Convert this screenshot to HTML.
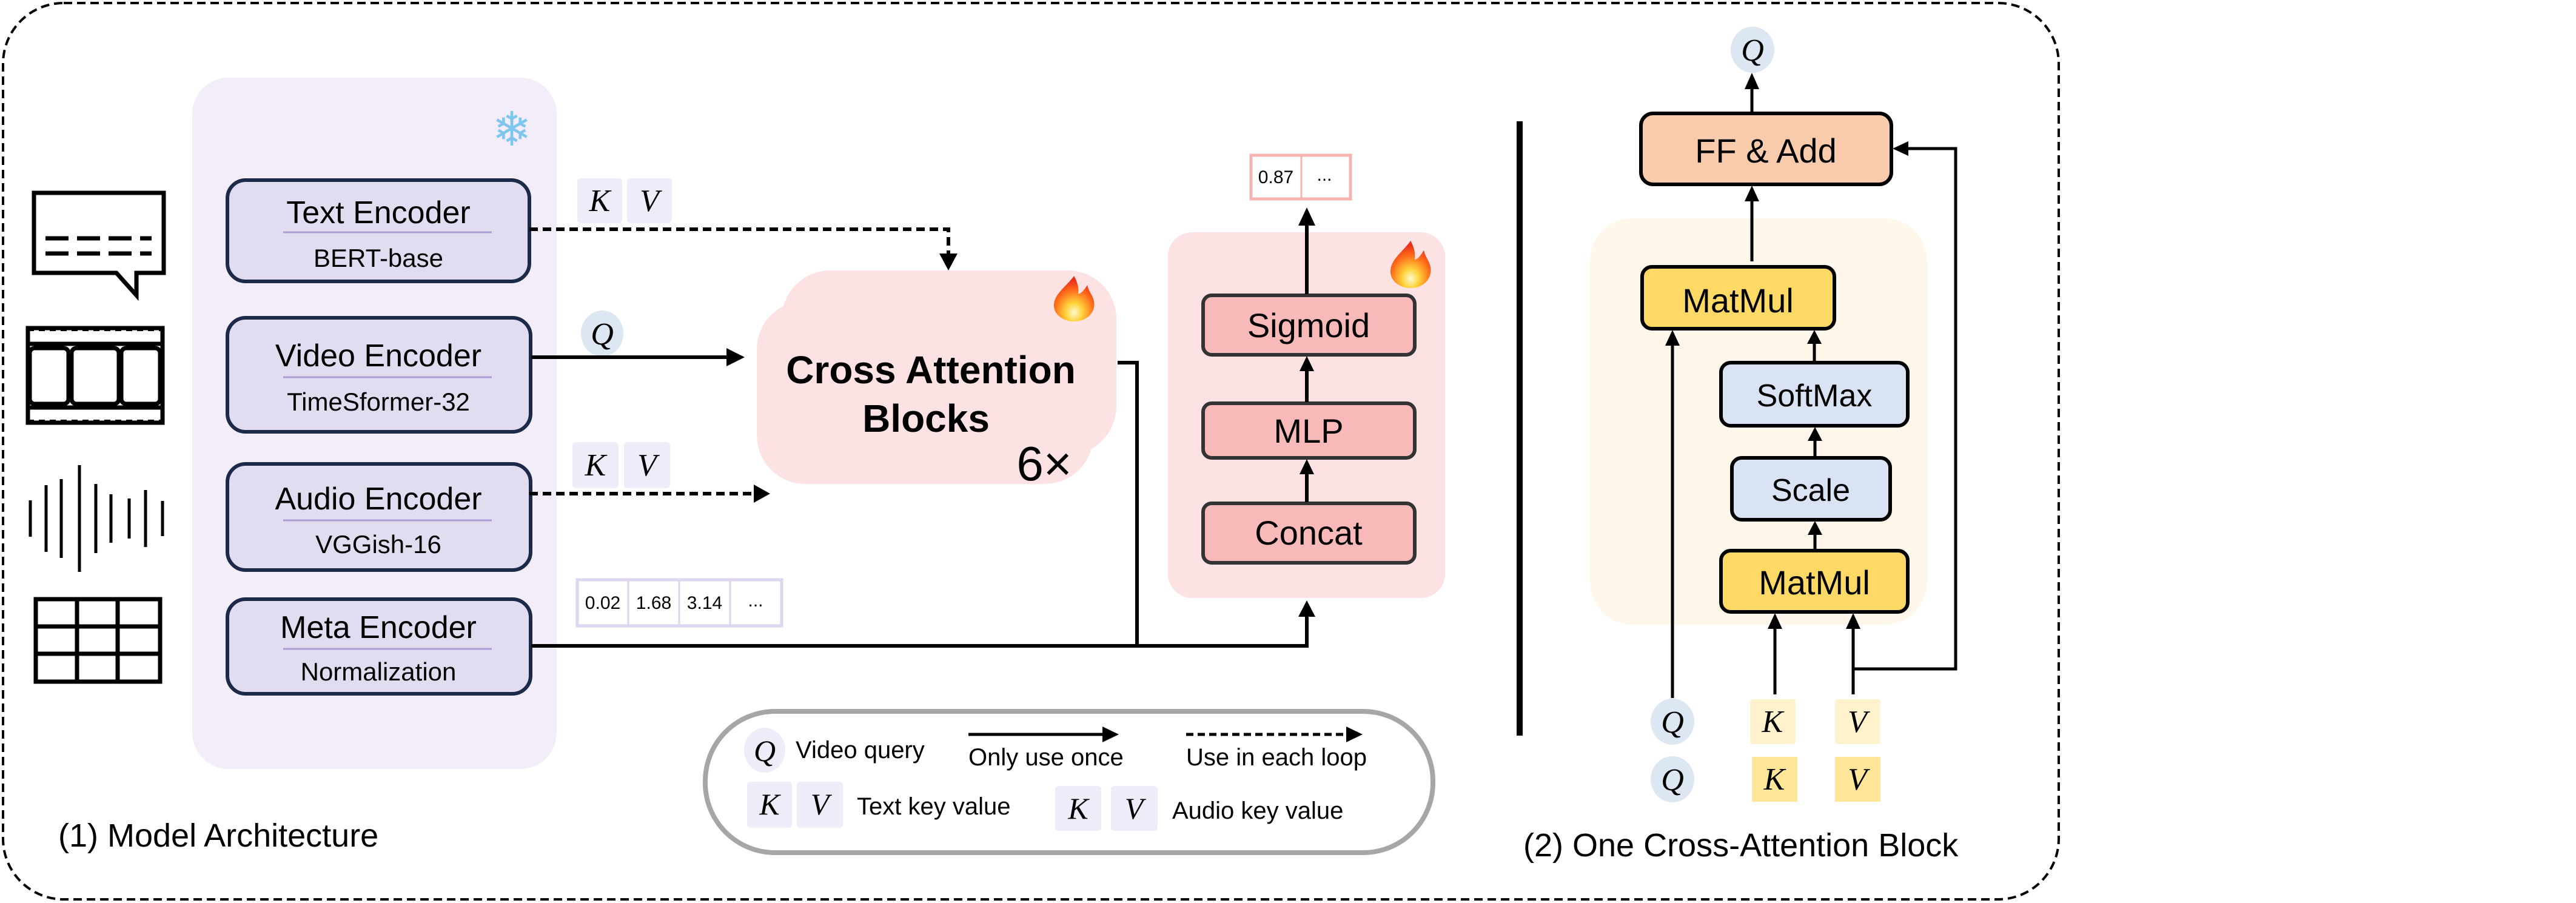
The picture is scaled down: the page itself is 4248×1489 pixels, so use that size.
<!DOCTYPE html>
<html><head><meta charset="utf-8"><style>
html,body{margin:0;padding:0;background:#fff;}
svg{display:block;}
text{font-family:"Liberation Sans",sans-serif;}
.m{font-family:"Liberation Serif",serif;font-style:italic;}
</style></head><body>
<svg width="4248" height="1489" viewBox="0 0 4248 1489" xmlns="http://www.w3.org/2000/svg">
<defs>
<radialGradient id="fire" cx="0.5" cy="0.8" r="0.7">
<stop offset="0" stop-color="#fffbd0"/><stop offset="0.3" stop-color="#ffd23a"/><stop offset="0.7" stop-color="#ff6b1a"/><stop offset="1" stop-color="#e8331c"/>
</radialGradient>
<g id="flame"><path d="M35 0 C20 25 0 40 0 65 C0 85 16 100 35 100 C54 100 70 85 70 62 C70 45 60 35 58 20 C52 32 48 38 42 40 C44 25 40 12 35 0 Z" fill="url(#fire)"/></g>
</defs>

<rect x="5" y="5" width="3390" height="1478" rx="100" fill="none" stroke="#000" stroke-width="4" stroke-dasharray="14,8"/>

<rect x="317" y="128" width="601" height="1140" rx="60" fill="#f2edf8"/>
<text x="844" y="240" font-size="78" text-anchor="middle" fill="#7fc6ee" font-family="DejaVu Sans">❄</text>

<g stroke="#1c2a4a" stroke-width="6" fill="#e2dcf0">
<rect x="375" y="297" width="498" height="167" rx="30"/>
<rect x="375" y="524" width="500" height="188" rx="30"/>
<rect x="375" y="765" width="500" height="175" rx="30"/>
<rect x="375" y="988" width="500" height="156" rx="30"/>
</g>
<g stroke="#a99bd4" stroke-width="3">
<line x1="467" y1="383" x2="811" y2="383"/>
<line x1="467" y1="622" x2="811" y2="622"/>
<line x1="467" y1="858" x2="811" y2="858"/>
<line x1="467" y1="1070" x2="811" y2="1070"/>
</g>
<g text-anchor="middle" fill="#000">
<text x="624" y="368" font-size="52">Text Encoder</text>
<text x="624" y="440" font-size="42">BERT-base</text>
<text x="624" y="604" font-size="52">Video Encoder</text>
<text x="624" y="677" font-size="42">TimeSformer-32</text>
<text x="624" y="840" font-size="52">Audio Encoder</text>
<text x="624" y="912" font-size="42">VGGish-16</text>
<text x="624" y="1052" font-size="52">Meta Encoder</text>
<text x="624" y="1122" font-size="42">Normalization</text>
</g>

<g fill="none" stroke="#000" stroke-width="7">
<path d="M56 318 H270 V450 H225 V487 L192 450 H56 Z"/>
<line x1="75" y1="393" x2="250" y2="393" stroke-dasharray="38,14"/>
<line x1="75" y1="418" x2="250" y2="418" stroke-dasharray="38,14"/>
<rect x="46" y="541" width="222" height="156"/>
<line x1="46" y1="567" x2="268" y2="567"/>
<line x1="46" y1="672" x2="268" y2="672"/>
<rect x="49" y="574" width="64" height="92" rx="8"/>
<rect x="118" y="574" width="78" height="92" rx="8"/>
<rect x="200" y="574" width="64" height="92" rx="8"/>
</g>
<g stroke="#000" stroke-width="6" stroke-dasharray="10,8">
<line x1="46" y1="543" x2="268" y2="543"/>
<line x1="46" y1="695" x2="268" y2="695"/>
</g>
<g stroke="#000" stroke-width="5">
<line x1="50" y1="825" x2="50" y2="885"/>
<line x1="76" y1="800" x2="76" y2="910"/>
<line x1="101" y1="790" x2="101" y2="920"/>
<line x1="131" y1="767" x2="131" y2="943"/>
<line x1="158" y1="798" x2="158" y2="912"/>
<line x1="183" y1="815" x2="183" y2="895"/>
<line x1="213" y1="822" x2="213" y2="888"/>
<line x1="240" y1="808" x2="240" y2="902"/>
<line x1="268" y1="826" x2="268" y2="884"/>
</g>
<g fill="none" stroke="#000" stroke-width="7">
<rect x="59" y="988" width="205" height="136"/>
<line x1="59" y1="1033" x2="264" y2="1033"/>
<line x1="59" y1="1078" x2="264" y2="1078"/>
<line x1="127" y1="988" x2="127" y2="1124"/>
<line x1="194" y1="988" x2="194" y2="1124"/>
</g>

<g fill="#efebf8"><rect x="952" y="294" width="74" height="74" rx="6"/><rect x="1034" y="294" width="74" height="74" rx="6"/>
<rect x="944" y="729" width="76" height="76" rx="6"/><rect x="1029" y="729" width="76" height="76" rx="6"/></g>
<g font-size="52" text-anchor="middle">
<text x="989" y="348" class="m">K</text><text x="1071" y="348" class="m">V</text>
<text x="982" y="784" class="m">K</text><text x="1067" y="784" class="m">V</text>
</g>
<ellipse cx="993" cy="550" rx="35" ry="38" fill="#dde6f3"/>
<text x="993" y="568" font-size="52" text-anchor="middle" class="m">Q</text>

<!-- cross attention -->
<rect x="1289" y="446" width="552" height="304" rx="80" fill="#fde2e3"/>
<rect x="1248" y="496" width="555" height="302" rx="80" fill="#fde2e3"/>
<text x="1535" y="632" font-size="64" font-weight="bold" text-anchor="middle">Cross Attention</text>
<text x="1527" y="712" font-size="64" font-weight="bold" text-anchor="middle">Blocks</text>
<text x="1722" y="792" font-size="80" text-anchor="middle">6×</text>
<use href="#flame" transform="translate(1738,455) scale(0.95,0.75)"/>

<rect x="952" y="956" width="337" height="76" fill="#fff" stroke="#ddd6ee" stroke-width="5"/>
<g stroke="#ddd6ee" stroke-width="3"><line x1="1036" y1="958" x2="1036" y2="1030"/><line x1="1120" y1="958" x2="1120" y2="1030"/><line x1="1204" y1="958" x2="1204" y2="1030"/></g>
<g font-size="30" text-anchor="middle"><text x="994" y="1004">0.02</text><text x="1078" y="1004">1.68</text><text x="1162" y="1004">3.14</text><text x="1246" y="1000">...</text></g>

<!-- right pink panel -->
<rect x="1926" y="383" width="457" height="603" rx="40" fill="#fde2e3"/>
<use href="#flame" transform="translate(2293,397) scale(0.95,0.78)"/>
<g fill="#f8b9b9" stroke="#333" stroke-width="6">
<rect x="1984" y="487" width="349" height="98" rx="14"/>
<rect x="1984" y="665" width="349" height="90" rx="14"/>
<rect x="1984" y="830" width="349" height="98" rx="14"/>
</g>
<g font-size="56" text-anchor="middle"><text x="2158" y="556">Sigmoid</text><text x="2158" y="730">MLP</text><text x="2158" y="898">Concat</text></g>
<rect x="2063" y="256" width="164" height="72" fill="#fff" stroke="#f6b3b3" stroke-width="5"/>
<line x1="2146" y1="258" x2="2146" y2="326" stroke="#f6b3b3" stroke-width="3"/>
<text x="2104" y="302" font-size="30" text-anchor="middle">0.87</text><text x="2184" y="298" font-size="30" text-anchor="middle">...</text>

<!-- arrows left (drawn on top) -->
<g fill="none" stroke="#000" stroke-width="6">
<path d="M873 378 H1564 V420" stroke-dasharray="14,8"/>
<line x1="876" y1="589" x2="1200" y2="589"/>
<line x1="873" y1="814" x2="1245" y2="814" stroke-dasharray="14,8"/>
<path d="M1843 598 H1875 V1065"/>
<path d="M876 1065 H2155 V1015"/>
<line x1="2155" y1="485" x2="2155" y2="370"/>
<line x1="2155" y1="663" x2="2155" y2="610"/>
<line x1="2155" y1="828" x2="2155" y2="780"/>
</g>
<g fill="#000">
<path d="M1549 418 L1579 418 L1564 446 Z"/>
<path d="M1198 574 L1228 589 L1198 604 Z"/>
<path d="M1243 799 L1270 814 L1243 829 Z"/>
<path d="M2141 1017 L2169 1017 L2155 990 Z"/>
<path d="M2141 372 L2169 372 L2155 342 Z"/>
<path d="M2143 612 L2167 612 L2155 587 Z"/>
<path d="M2143 782 L2167 782 L2155 757 Z"/>
</g>

<!-- legend -->
<rect x="1163" y="1173" width="1200" height="233" rx="115" fill="#fff" stroke="#a6a6a6" stroke-width="8"/>
<ellipse cx="1261" cy="1237" rx="34" ry="37" fill="#efebf8"/>
<text x="1261" y="1255" font-size="50" text-anchor="middle" class="m">Q</text>
<text x="1312" y="1250" font-size="40">Video query</text>
<line x1="1597" y1="1211" x2="1820" y2="1211" stroke="#000" stroke-width="5"/>
<path d="M1818 1198 L1845 1211 L1818 1224 Z"/>
<text x="1597" y="1262" font-size="40">Only use once</text>
<line x1="1956" y1="1211" x2="2222" y2="1211" stroke="#000" stroke-width="5" stroke-dasharray="12,7"/>
<path d="M2220 1198 L2247 1211 L2220 1224 Z"/>
<text x="1956" y="1262" font-size="40">Use in each loop</text>
<g fill="#efebf8"><rect x="1232" y="1289" width="74" height="76" rx="6"/><rect x="1314" y="1289" width="76" height="76" rx="6"/>
<rect x="1740" y="1296" width="76" height="74" rx="6"/><rect x="1832" y="1296" width="77" height="74" rx="6"/></g>
<g font-size="50" text-anchor="middle">
<text x="1269" y="1343" class="m">K</text><text x="1352" y="1343" class="m">V</text>
<text x="1778" y="1350" class="m">K</text><text x="1870" y="1350" class="m">V</text></g>
<text x="1413" y="1343" font-size="40">Text key value</text>
<text x="1933" y="1350" font-size="40">Audio key value</text>

<text x="96" y="1396" font-size="54">(1) Model Architecture</text>

<rect x="2501" y="200" width="10" height="1013" fill="#000"/>

<rect x="2622" y="360" width="556" height="670" rx="70" fill="#fff8ea"/>
<ellipse cx="2890" cy="82" rx="36" ry="38" fill="#dde6f3"/>
<text x="2890" y="100" font-size="52" text-anchor="middle" class="m">Q</text>
<rect x="2706" y="187" width="413" height="117" rx="20" fill="#f8cbad" stroke="#000" stroke-width="6"/>
<text x="2912" y="268" font-size="56" text-anchor="middle">FF &amp; Add</text>
<rect x="2708" y="440" width="317" height="102" rx="16" fill="#ffd966" stroke="#000" stroke-width="6"/>
<text x="2866" y="515" font-size="56" text-anchor="middle">MatMul</text>
<rect x="2838" y="598" width="308" height="104" rx="16" fill="#dae3f3" stroke="#000" stroke-width="6"/>
<text x="2992" y="670" font-size="52" text-anchor="middle">SoftMax</text>
<rect x="2856" y="755" width="261" height="102" rx="16" fill="#dae3f3" stroke="#000" stroke-width="6"/>
<text x="2986" y="826" font-size="52" text-anchor="middle">Scale</text>
<rect x="2838" y="908" width="308" height="101" rx="16" fill="#ffd966" stroke="#000" stroke-width="6"/>
<text x="2992" y="980" font-size="56" text-anchor="middle">MatMul</text>
<g fill="none" stroke="#000" stroke-width="5">
<line x1="2889" y1="187" x2="2889" y2="145"/>
<line x1="2889" y1="431" x2="2889" y2="330"/>
<line x1="2758" y1="1151" x2="2758" y2="568"/>
<line x1="2927" y1="1145" x2="2927" y2="1035"/>
<line x1="3056" y1="1145" x2="3056" y2="1035"/>
<path d="M3056 1103 H3225 V245 H3145"/>
<line x1="2992" y1="598" x2="2992" y2="565"/>
<line x1="2993" y1="755" x2="2993" y2="725"/>
<line x1="2993" y1="908" x2="2993" y2="880"/>
</g>
<g fill="#000">
<path d="M2877 147 L2901 147 L2889 120 Z"/>
<path d="M2877 332 L2901 332 L2889 306 Z"/>
<path d="M2746 570 L2770 570 L2758 544 Z"/>
<path d="M2915 1037 L2939 1037 L2927 1011 Z"/>
<path d="M3044 1037 L3068 1037 L3056 1011 Z"/>
<path d="M3147 233 L3147 257 L3121 245 Z"/>
<path d="M2980 567 L3004 567 L2992 544 Z"/>
<path d="M2981 727 L3005 727 L2993 704 Z"/>
<path d="M2981 882 L3005 882 L2993 859 Z"/>
</g>
<ellipse cx="2758" cy="1190" rx="36" ry="38" fill="#dde6f3"/>
<text x="2758" y="1208" font-size="52" text-anchor="middle" class="m">Q</text>
<ellipse cx="2758" cy="1285" rx="36" ry="38" fill="#dde6f3"/>
<text x="2758" y="1303" font-size="52" text-anchor="middle" class="m">Q</text>
<rect x="2886" y="1153" width="75" height="74" rx="4" fill="#fff2cc"/>
<rect x="3026" y="1153" width="75" height="74" rx="4" fill="#fff2cc"/>
<rect x="2889" y="1248" width="75" height="74" fill="#ffe699"/>
<rect x="3026" y="1248" width="75" height="74" fill="#ffe699"/>
<g font-size="52" text-anchor="middle">
<text x="2923" y="1207" class="m">K</text><text x="3063" y="1207" class="m">V</text>
<text x="2926" y="1302" class="m">K</text><text x="3063" y="1302" class="m">V</text></g>
<text x="2512" y="1412" font-size="54">(2) One Cross-Attention Block</text>
</svg>
</body></html>
